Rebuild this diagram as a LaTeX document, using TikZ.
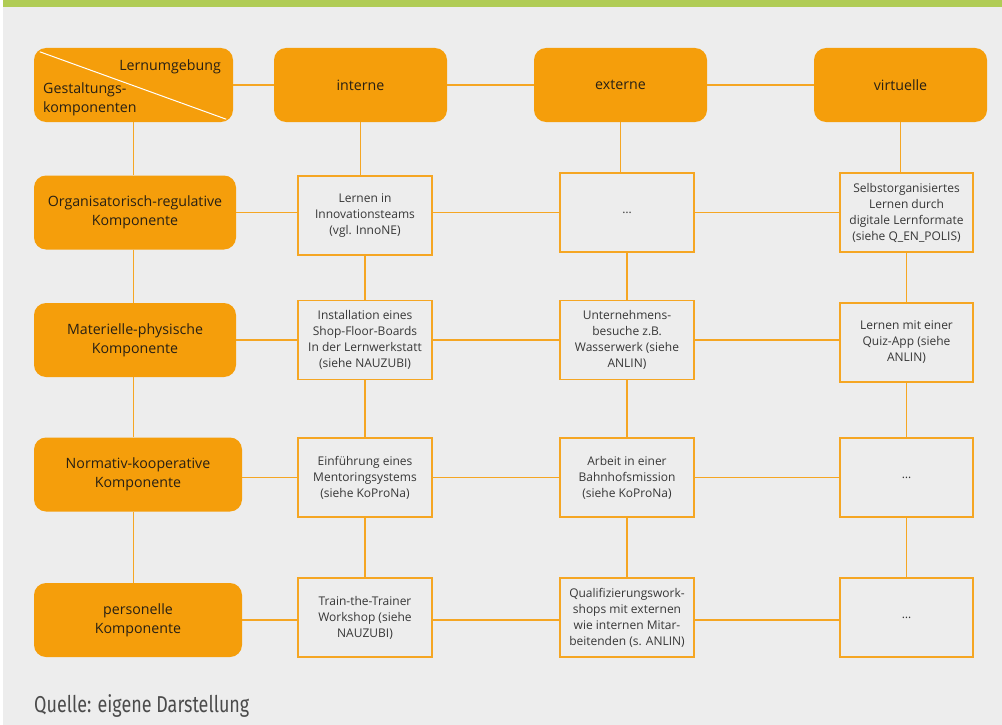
\documentclass[tikz,border=0pt]{standalone}
\usepackage{fontspec}
\usepackage{graphicx}
\setmainfont{Open Sans}
\newfontfamily\quellefont{Fira Sans}
\usetikzlibrary{calc}
\definecolor{bgc}{RGB}{237,237,237}
\definecolor{orfill}{RGB}{245,158,11}
\definecolor{orline}{RGB}{245,166,35}
\definecolor{topgreen}{RGB}{176,204,85}
\definecolor{txtdark}{RGB}{40,32,20}
\definecolor{txtgray}{RGB}{55,55,55}
\definecolor{quellec}{RGB}{75,75,75}
\begin{document}
\begin{tikzpicture}[x=1pt,y=-1pt,
  hdr/.style={fill=orfill, draw=none, rounded corners=12pt, inner sep=0pt, align=center,
    font=\fontsize{14.2}{18.7}\selectfont, text=txtdark, minimum height=74pt},
  cell/.style={draw=orline, line width=1.5pt, fill=bgc, inner sep=0pt, align=center,
    minimum width=134pt, minimum height=79pt, font=\fontsize{12}{16}\selectfont, text=txtgray},
  link/.style={draw=orline, line width=1.3pt},
  plain/.style={inner sep=0pt, font=\fontsize{14.2}{18.7}\selectfont, text=txtdark}]
\useasboundingbox (0,0) rectangle (1002,725);
\fill[white] (0,0) rectangle (1002,725);
\fill[bgc] (3,0) rectangle (1002,725);
\fill[topgreen] (3,0) rectangle (1002,7);

% header row
\node[hdr, minimum width=199pt] (corner) at (133.5,85) {};
\node[hdr, minimum width=173pt] (interne) at (360.5,85) {interne};
\node[hdr, minimum width=173pt] (externe) at (620.5,85) {externe};
\node[hdr, minimum width=173pt] (virtuelle) at (900.5,85) {virtuelle};
\draw[white, line width=1pt] ($(corner.north west)+(6,4)$) coordinate (d1) -- ($(corner.south east)+(-7,-3)$) coordinate (d2);
\node[plain, anchor=east] (lu) at (221,67) {Lernumgebung};
\node[plain, anchor=west, align=left] (gk) at (43,99.5) {Gestaltungs-\\komponenten};

% left column
\node[hdr, minimum width=202pt] (org) at (135,212.5) {Organisatorisch-regulative\\Komponente};
\node[hdr, minimum width=202pt] (mat) at (135,340) {Materielle-physische\\Komponente};
\node[hdr, minimum width=208pt] (norm) at (138,474.5) {Normativ-kooperative\\Komponente};
\node[hdr, minimum width=208pt] (pers) at (138,620) {personelle\\Komponente};

% interne
\node[cell] (i1) at (365,215.5) {Lernen in\\Innovationsteams\\(vgl. InnoNE)};
\node[cell] (i2) at (365,340) {Installation eines\\Shop-Floor-Boards\\In der Lernwerkstatt\\(siehe NAUZUBI)};
\node[cell] (i3) at (365,477.5) {Einführung eines\\Mentoringsystems\\(siehe KoProNa)};
\node[cell] (i4) at (365,617.5) {Train-the-Trainer\\Workshop (siehe\\NAUZUBI)};
% externe
\node[cell] (e1) at (627,212.5) {…};
\node[cell] (e2) at (627,340) {Unternehmens-\\besuche z.B.\\Wasserwerk (siehe\\ANLIN)};
\node[cell] (e3) at (627,477.5) {Arbeit in einer\\Bahnhofsmission\\(siehe KoProNa)};
\node[cell] (e4) at (627,617.5) {Qualifizierungswork-\\shops mit externen\\wie internen Mitar-\\beitenden (s. ANLIN)};
% virtuelle
\node[cell, minimum width=133pt] (v1) at (906.5,212.5) {Selbstorganisiertes\\Lernen durch\\digitale Lernformate\\(siehe Q\_EN\_POLIS)};
\node[cell, minimum width=133pt] (v2) at (906.5,342.5) {Lernen mit einer\\Quiz-App (siehe\\ANLIN)};
\node[cell, minimum width=133pt] (v3) at (906.5,477.5) {…};
\node[cell, minimum width=133pt] (v4) at (906.5,617.5) {…};

% header links
\draw[link] (corner.east) -- (interne.west);
\draw[link] (interne.east) -- (externe.west);
\draw[link] (externe.east) -- (virtuelle.west);
% left vertical
\draw[link] (corner.south) -- (corner.south |- org.north);
\draw[link] (corner.south |- org.south) -- (corner.south |- mat.north);
\draw[link] (corner.south |- mat.south) -- (corner.south |- norm.north);
\draw[link] (corner.south |- norm.south) -- (corner.south |- pers.north);
% column verticals
\draw[link] (interne.south) -- (interne.south |- i1.north);
\draw[link] (i1.south) -- (i2.north);
\draw[link] (i2.south) -- (i3.north);
\draw[link] (i3.south) -- (i4.north);
\draw[link] (externe.south) -- (externe.south |- e1.north);
\draw[link] (e1.south) -- (e2.north);
\draw[link] (e2.south) -- (e3.north);
\draw[link] (e3.south) -- (e4.north);
\draw[link] (virtuelle.south) -- (virtuelle.south |- v1.north);
\draw[link] (v1.south) -- (v2.north);
\draw[link] (v2.south) -- (v3.north);
\draw[link] (v3.south) -- (v4.north);
% rows
\draw[link] (org.east) -- (org.east -| i1.west);
\draw[link] (i1.east |- org.east) -- (e1.west);
\draw[link] (e1.east) -- (v1.west);
\draw[link] (mat.east) -- (i2.west);
\draw[link] (i2.east) -- (e2.west);
\draw[link] (e2.east) -- (e2.east -| v2.west);
\draw[link] (norm.east |- i3.west) -- (i3.west);
\draw[link] (i3.east) -- (e3.west);
\draw[link] (e3.east) -- (v3.west);
\draw[link] (pers.east) -- (pers.east -| i4.west);
\draw[link] (i4.east |- pers.east) -- (pers.east -| e4.west);
\draw[link] (e4.east |- pers.east) -- (pers.east -| v4.west);

% source
\node[anchor=base west, inner sep=0pt, text=quellec] (q) at (34,712)
  {\scalebox{0.78}[1]{\quellefont\fontsize{23}{27}\selectfont Quelle: eigene Darstellung}};
\end{tikzpicture}
\end{document}
